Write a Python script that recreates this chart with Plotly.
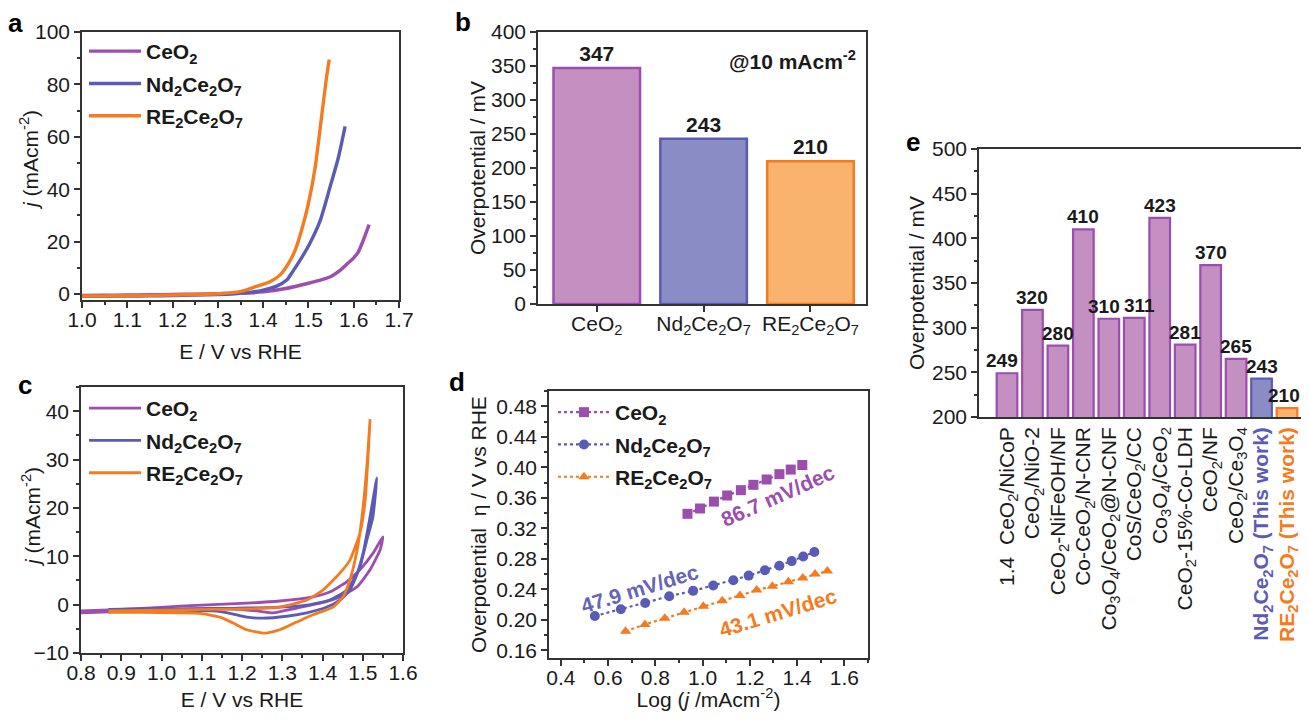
import plotly.graph_objects as go

W, H = 1309, 719
OFF = 8                      # default page body margin
FW, FH = W - 2 * OFF, H - 2 * OFF
FONT = "Arial, Liberation Sans, sans-serif"
INK = "#1a1a1a"

PURPLE = "#9B4EAE"
BLUE = "#5B5BB7"
ORANGE = "#F47B20"
PURPLE_FILL = "#C490C2"
BLUE_FILL = "#8A8CC6"
ORANGE_FILL = "#F9B36F"

NAMES = ["CeO<sub>2</sub>", "Nd<sub>2</sub>Ce<sub>2</sub>O<sub>7</sub>", "RE<sub>2</sub>Ce<sub>2</sub>O<sub>7</sub>"]

# ---------------- panel a: LSV ----------------
a_ceo2_x = [1.0, 1.05, 1.1, 1.15, 1.2, 1.25, 1.3, 1.35, 1.4, 1.45, 1.5, 1.53, 1.55, 1.57, 1.59, 1.6, 1.61, 1.62, 1.634]
a_ceo2_y = [-0.6, -0.5, -0.4, -0.3, -0.2, -0.05, 0.1, 0.3, 0.8, 2.1, 4.1, 5.5, 6.7, 9.0, 12.2, 13.8, 16.0, 20.0, 26.5]
a_nd_x = [1.0, 1.05, 1.1, 1.15, 1.2, 1.25, 1.3, 1.335, 1.37, 1.4, 1.43, 1.452, 1.467, 1.482, 1.503, 1.526, 1.548, 1.566, 1.581]
a_nd_y = [-0.9, -0.85, -0.8, -0.7, -0.6, -0.45, -0.2, 0.1, 0.6, 1.5, 3.0, 5.3, 9.0, 13.0, 19.3, 28.0, 41.0, 52.0, 64.0]
a_re_x = [1.0, 1.05, 1.1, 1.15, 1.2, 1.25, 1.3, 1.349, 1.385, 1.415, 1.437, 1.456, 1.471, 1.485, 1.5, 1.515, 1.529, 1.54, 1.546]
a_re_y = [-0.8, -0.75, -0.65, -0.55, -0.4, -0.2, 0.1, 0.9, 2.9, 4.7, 7.2, 11.7, 16.8, 24.4, 34.6, 48.5, 67.6, 82.8, 89.5]

# ---------------- panel b: overpotential ----------------
b_categories = ["CeO2", "Nd2Ce2O7", "RE2Ce2O7"]
b_values = [347, 243, 210]

# ---------------- panel c: CV ----------------
c_ceo2_x = [0.80, 0.87, 0.95, 1.046, 1.128, 1.212, 1.294, 1.376, 1.418, 1.460, 1.493, 1.526, 1.550,
            1.543, 1.518, 1.486, 1.443, 1.394, 1.336, 1.277, 1.237, 1.170, 1.046, 0.95, 0.87, 0.80]
c_ceo2_y = [-1.3, -1.1, -0.8, -0.3, 0.0, 0.3, 0.75, 1.6, 2.6, 4.7, 7.2, 10.7, 14.0,
            11.3, 7.2, 3.7, 1.6, 0.3, -0.7, -1.7, -1.3, -0.8, -1.0, -1.2, -1.5, -1.7]
c_nd_x = [0.868, 0.95, 1.046, 1.128, 1.212, 1.294, 1.361, 1.418, 1.460, 1.486, 1.501, 1.518, 1.535,
          1.525, 1.510, 1.493, 1.468, 1.443, 1.411, 1.361, 1.311, 1.252, 1.212, 1.170, 1.128, 1.046, 0.95, 0.868]
c_nd_y = [-1.0, -0.9, -0.9, -0.8, -0.7, -0.5, -0.1, 0.95, 3.0, 6.5, 10.7, 18.1, 26.2,
          18.0, 13.3, 7.8, 3.0, 0.95, -0.5, -1.7, -2.4, -2.8, -2.6, -1.8, -1.3, -1.2, -1.2, -1.2]
c_re_x = [0.868, 0.95, 1.046, 1.128, 1.212, 1.294, 1.361, 1.401, 1.443, 1.468, 1.493, 1.506, 1.518,
          1.510, 1.498, 1.486, 1.468, 1.451, 1.426, 1.376, 1.336, 1.294, 1.257, 1.212, 1.178, 1.145, 1.096, 1.046, 0.95, 0.868]
c_re_y = [-1.3, -1.2, -1.1, -1.0, -0.9, -0.5, 0.95, 3.0, 6.5, 9.2, 14.8, 21.6, 38.1,
          28.4, 18.1, 11.3, 5.1, 1.6, -0.5, -2.1, -3.6, -5.2, -5.9, -5.2, -3.8, -2.6, -1.8, -1.7, -1.6, -1.6]

# ---------------- panel d: Tafel ----------------
d_ceo2_x = [0.936, 0.989, 1.048, 1.104, 1.162, 1.215, 1.271, 1.325, 1.373, 1.422]
d_ceo2_y = [0.339, 0.346, 0.355, 0.363, 0.370, 0.377, 0.384, 0.391, 0.397, 0.403]
d_nd_x = [0.544, 0.654, 0.757, 0.859, 0.960, 1.045, 1.130, 1.195, 1.264, 1.325, 1.377, 1.426, 1.473]
d_nd_y = [0.205, 0.214, 0.222, 0.231, 0.238, 0.245, 0.252, 0.258, 0.265, 0.271, 0.277, 0.283, 0.289]
d_re_x = [0.674, 0.756, 0.840, 0.922, 1.003, 1.083, 1.158, 1.229, 1.295, 1.363, 1.424, 1.476, 1.528]
d_re_y = [0.185, 0.194, 0.202, 0.210, 0.218, 0.225, 0.232, 0.239, 0.244, 0.250, 0.255, 0.260, 0.264]
d_slopes = ["86.7 mV/dec", "47.9 mV/dec", "43.1 mV/dec"]

# ---------------- panel e: comparison ----------------
e_categories = ["1.4  CeO2/NiCoP", "CeO2/NiO-2", "CeO2-NiFeOH/NF", "Co-CeO2/N-CNR", "Co3O4/CeO2@N-CNF",
                "CoS/CeO2/CC", "Co3O4/CeO2", "CeO2-15%-Co-LDH", "CeO2/NF", "CeO2/Ce3O4",
                "Nd2Ce2O7 (This work)", "RE2Ce2O7 (This work)"]
e_ticktext = ["1.4  CeO<sub>2</sub>/NiCoP", "CeO<sub>2</sub>/NiO-2", "CeO<sub>2</sub>-NiFeOH/NF",
              "Co-CeO<sub>2</sub>/N-CNR", "Co<sub>3</sub>O<sub>4</sub>/CeO<sub>2</sub>@N-CNF",
              "CoS/CeO<sub>2</sub>/CC", "Co<sub>3</sub>O<sub>4</sub>/CeO<sub>2</sub>",
              "CeO<sub>2</sub>-15%-Co-LDH", "CeO<sub>2</sub>/NF", "CeO<sub>2</sub>/Ce<sub>3</sub>O<sub>4</sub>",
              "<span style='color:%s'><b>Nd<sub>2</sub>Ce<sub>2</sub>O<sub>7</sub> (This work)</b></span>" % BLUE,
              "<span style='color:%s'><b>RE<sub>2</sub>Ce<sub>2</sub>O<sub>7</sub> (This work)</b></span>" % ORANGE]
e_values = [249, 320, 280, 410, 310, 311, 423, 281, 370, 265, 243, 210]
# horizontal nudges (px) of the value labels, as in the original layout
e_label_nudge = [-5, 0, 0, 0, -5, 5, 0, 0, 0, 0, 0, -3]


def px(x):
    return (x - OFF) / FW


def py(y):
    return 1 - (y - OFF) / FH


def dom_x(l, r):
    return [max(px(l), 0.0), min(px(r), 1.0)]


def dom_y(t, b):
    return [py(b), py(t)]


fig = go.Figure()

# panel a
for i, (xs, ys, nm, col) in enumerate([(a_ceo2_x, a_ceo2_y, NAMES[0], PURPLE), (a_nd_x, a_nd_y, NAMES[1], BLUE),
                                       (a_re_x, a_re_y, NAMES[2], ORANGE)]):
    fig.add_trace(go.Scatter(x=xs, y=ys, mode="lines", name="<b>%s</b>" % nm, legendgroup="a%d" % i,
                             line=dict(color=col, width=3.4, shape="spline", smoothing=0.6),
                             xaxis="x", yaxis="y", legend="legend"))

# panel b
fig.add_trace(go.Bar(x=b_categories, y=b_values, width=0.81,
                     marker=dict(color=[PURPLE_FILL, BLUE_FILL, ORANGE_FILL],
                                 line=dict(color=[PURPLE, BLUE, ORANGE], width=2.5)),
                     text=b_values, texttemplate="<b>%{y}</b>", textposition="outside",
                     constraintext="none",
                     textfont=dict(size=21, color=INK, family=FONT), cliponaxis=False,
                     showlegend=False, xaxis="x2", yaxis="y2"))

# panel c
for i, (xs, ys, nm, col) in enumerate([(c_ceo2_x, c_ceo2_y, NAMES[0], PURPLE), (c_nd_x, c_nd_y, NAMES[1], BLUE),
                                       (c_re_x, c_re_y, NAMES[2], ORANGE)]):
    fig.add_trace(go.Scatter(x=xs, y=ys, mode="lines", name="<b>%s</b>" % nm, legendgroup="c%d" % i,
                             line=dict(color=col, width=2.8, shape="spline", smoothing=0.5),
                             xaxis="x3", yaxis="y3", legend="legend2"))

# panel d
for i, (xs, ys, nm, col, sym) in enumerate([(d_ceo2_x, d_ceo2_y, NAMES[0], PURPLE, "square"),
                                            (d_nd_x, d_nd_y, NAMES[1], BLUE, "circle"),
                                            (d_re_x, d_re_y, NAMES[2], ORANGE, "triangle-up")]):
    fig.add_trace(go.Scatter(x=xs, y=ys, mode="lines+markers", name="<b>%s</b>" % nm, legendgroup="d%d" % i,
                             line=dict(color=col, width=2.2, dash="dot"),
                             marker=dict(color=col, symbol=sym, size=10),
                             xaxis="x4", yaxis="y4", legend="legend3"))

# panel e
e_fill = [PURPLE_FILL] * 10 + [BLUE_FILL, ORANGE_FILL]
e_line = [PURPLE] * 10 + [BLUE, ORANGE]
fig.add_trace(go.Bar(x=e_categories, y=e_values, width=0.81,
                     marker=dict(color=e_fill, line=dict(color=e_line, width=2.2)),
                     showlegend=False, xaxis="x5", yaxis="y5"))

axis_common = dict(showline=True, linecolor="#333333", linewidth=1.5, mirror=True, automargin=False,
                   ticks="outside", ticklen=6, tickwidth=1.5, tickcolor="#333333",
                   tickfont=dict(size=21, color=INK, family=FONT), showgrid=False, zeroline=False)
xaxis_common = dict(axis_common, ticklabelstandoff=-6)
title_font = dict(size=21, color=INK, family=FONT)
legend_common = dict(xanchor="left", yanchor="top", bgcolor="rgba(0,0,0,0)", itemwidth=52,
                     font=dict(size=21, color=INK, family=FONT), tracegroupgap=2)

fig.update_layout(
    template="none",
    width=FW, height=FH, margin=dict(l=0, r=0, t=0, b=0, autoexpand=False),
    paper_bgcolor="white", plot_bgcolor="white",
    font=dict(family=FONT, color=INK),
    xaxis=dict(xaxis_common, domain=dom_x(82, 399), anchor="y", range=[1.0, 1.7], dtick=0.1, tick0=1.0,
               tickformat=".1f", minor=dict(ticks="outside", ticklen=3, dtick=0.05, tickcolor="#333333"),
               title=dict(text="E / V vs RHE", font=title_font, standoff=14)),
    yaxis=dict(axis_common, domain=dom_y(32, 300), anchor="x", range=[-2.3, 100], dtick=20, tick0=0,
               minor=dict(ticks="outside", ticklen=3, dtick=10, tickcolor="#333333")),
    xaxis2=dict(xaxis_common, domain=dom_x(538, 866), anchor="y2", range=[-0.55, 2.52],
                tickvals=b_categories, ticktext=NAMES),
    yaxis2=dict(axis_common, domain=dom_y(32, 304), anchor="x2", range=[0, 400], dtick=50,
                minor=dict(ticks="outside", ticklen=3, dtick=25, tickcolor="#333333"),
                title=dict(text="Overpotential / mV", font=title_font, standoff=0)),
    xaxis3=dict(xaxis_common, domain=dom_x(81, 403), anchor="y3", range=[0.8, 1.6], dtick=0.1, tick0=0.8,
                tickformat=".1f", minor=dict(ticks="outside", ticklen=3, dtick=0.05, tickcolor="#333333"),
                title=dict(text="E / V vs RHE", font=title_font, standoff=12)),
    yaxis3=dict(axis_common, domain=dom_y(387, 653), anchor="x3", range=[-10, 45], dtick=10, tick0=0,
                minor=dict(ticks="outside", ticklen=3, dtick=5, tickcolor="#333333")),
    xaxis4=dict(xaxis_common, domain=dom_x(549, 868), anchor="y4", range=[0.35, 1.70], dtick=0.2, tick0=0.4,
                tickformat=".1f", minor=dict(ticks="outside", ticklen=3, dtick=0.1, tickcolor="#333333"),
                title=dict(text="Log (<i>j</i> /mAcm<sup>-2</sup>)", font=title_font, standoff=12)),
    yaxis4=dict(axis_common, domain=dom_y(391, 658), anchor="x4", range=[0.15, 0.50], dtick=0.04, tick0=0.16,
                tickformat=".2f", minor=dict(ticks="outside", ticklen=3, dtick=0.02, tickcolor="#333333"),
                title=dict(text="Overpotential  η / V vs RHE", font=title_font, standoff=4)),
    xaxis5=dict(axis_common, domain=dom_x(979, 1309), anchor="y5", range=[-1.1, 11.55], ticks="",
                tickvals=e_categories, ticktext=e_ticktext, tickangle=-90),
    yaxis5=dict(axis_common, domain=dom_y(149, 417), anchor="x5", range=[200, 500], dtick=50,
                minor=dict(ticks="outside", ticklen=3, dtick=25, tickcolor="#333333"),
                title=dict(text="Overpotential / mV", font=title_font, standoff=2)),
    legend=dict(legend_common, x=px(84), y=py(31)),
    legend2=dict(legend_common, x=px(84), y=py(388)),
    legend3=dict(legend_common, x=px(553), y=py(392)),
)

annotations = []
for txt, lx, ly in [("a", 15, 23), ("b", 463, 22), ("c", 25, 385), ("d", 457, 382), ("e", 913, 142)]:
    annotations.append(dict(text="<b>%s</b>" % txt, x=px(lx), y=py(ly), xref="paper", yref="paper",
                            xanchor="center", yanchor="middle", showarrow=False,
                            font=dict(size=26, color="#000", family=FONT)))
# y-axis titles of panels a and c (placed like the original, close to the tick labels)
for lx, ly in [(29, 160), (31, 517)]:
    annotations.append(dict(text="<i>j</i> (mAcm<sup>-2</sup>)", x=px(lx), y=py(ly), xref="paper", yref="paper",
                            xanchor="center", yanchor="middle", textangle=-90, showarrow=False,
                            font=title_font))
annotations.append(dict(text="<b>@10 mAcm<sup>-2</sup></b>", x=px(792), y=py(60), xref="paper",
                        yref="paper", xanchor="center", yanchor="middle", showarrow=False,
                        font=dict(size=21, color=INK, family=FONT)))
for txt, x, y, col, ang in [(d_slopes[0], 1.32, 0.363, PURPLE, -24), (d_slopes[1], 0.735, 0.241, "#6464BA", -17),
                            (d_slopes[2], 1.32, 0.210, ORANGE, -17)]:
    annotations.append(dict(text="<b>%s</b>" % txt, x=x, y=y, xref="x4", yref="y4", showarrow=False,
                            textangle=ang, font=dict(size=21, color=col, family=FONT)))
# value labels of panel e
for cat, val, nudge in zip(e_categories, e_values, e_label_nudge):
    annotations.append(dict(text="<b>%d</b>" % val, x=cat, y=val, xref="x5", yref="y5", showarrow=False,
                            xanchor="center", yanchor="bottom", xshift=nudge, yshift=0,
                            font=dict(size=19, color=INK, family=FONT)))
fig.update_layout(annotations=annotations)

fig.write_html("out.html")
